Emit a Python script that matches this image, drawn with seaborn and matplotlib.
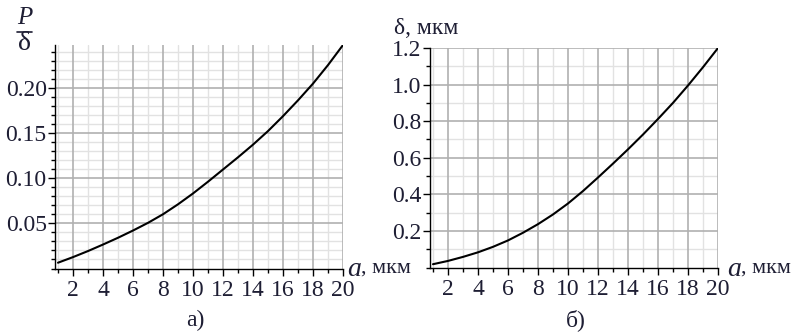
import numpy as np
import pandas as pd
import matplotlib
matplotlib.use("Agg")
import matplotlib.pyplot as plt
from matplotlib.lines import Line2D
import seaborn as sns
from matplotlib.ticker import MultipleLocator

sns.set_theme(style="white")
plt.rcParams['font.family'] = ['Liberation Serif', 'DejaVu Serif']
plt.rcParams['mathtext.fontset'] = 'stix'

# ---- data ----
a_um = [1, 2, 3, 4, 5, 6, 7, 8, 9, 10, 11, 12, 13, 14, 15, 16, 17, 18, 19, 20]
p_over_delta = [0.0064, 0.0126, 0.0193, 0.0265, 0.0340, 0.0420, 0.0505, 0.0600, 0.0710, 0.0830,
                0.0960, 0.1095, 0.1230, 0.1370, 0.1520, 0.1685, 0.1860, 0.2045, 0.2250, 0.2472]
delta_um = [0.018, 0.036, 0.058, 0.083, 0.113, 0.148, 0.190, 0.237, 0.290, 0.350,
            0.418, 0.492, 0.568, 0.646, 0.727, 0.812, 0.900, 0.995, 1.095, 1.200]
x_ticks = [2, 4, 6, 8, 10, 12, 14, 16, 18, 20]
left_yticks = [0.05, 0.10, 0.15, 0.20]
left_ylabels = ["0.05", "0.10", "0.15", "0.20"]
right_yticks = [0.2, 0.4, 0.6, 0.8, 1.0, 1.2]
right_ylabels = ["0.2", "0.4", "0.6", "0.8", "1.0", "1.2"]

df = pd.DataFrame({"a": a_um, "pd": p_over_delta, "d": delta_um})

W, H = 795, 332
fig = plt.figure(figsize=(W / 100, H / 100), dpi=100)

def ax_rect(l, r, t, b):
    return [l / W, 1 - b / H, (r - l) / W, (b - t) / H]

ax1 = fig.add_axes(ax_rect(55, 343, 45, 268.5))
ax2 = fig.add_axes(ax_rect(430, 718, 48, 267.5))

txt = '#1e1e34'
major_c = '#b0b0b0'
minor_c = '#e2e2e2'
FS = 17

def style(ax, ymin, ymax, yt, yl, yminor, ygrid_minor):
    ax.set_xlim(0.8, 20)
    ax.set_ylim(ymin, ymax)
    ax.set_xticks(x_ticks)
    ax.set_xticklabels([str(v) for v in x_ticks])
    ax.xaxis.set_minor_locator(MultipleLocator(1))
    ax.set_yticks(yt)
    ax.set_yticklabels(yl)
    ax.yaxis.set_minor_locator(MultipleLocator(yminor))
    for s in ['top', 'right']:
        ax.spines[s].set_visible(False)
    for s in ['left', 'bottom']:
        ax.spines[s].set_color('black')
        ax.spines[s].set_linewidth(1.0)
    ax.tick_params(which='major', direction='out', length=5, width=1, color='black',
                   labelsize=FS, labelcolor=txt, pad=1, bottom=True, left=True)
    ax.tick_params(which='minor', direction='out', length=3, width=1, color='black',
                   bottom=True, left=True)
    ax.tick_params(axis='x', which='major', pad=3)
    ax.set_axisbelow(True)
    ax.grid(False)
    for xv in range(1, 21, 2):
        ax.axvline(xv, color=minor_c, lw=1.0, zorder=0)
    for yv in ygrid_minor:
        ax.axhline(yv, color=minor_c, lw=1.0, zorder=0)
    for xv in x_ticks:
        ax.axvline(xv, color=major_c, lw=1.2, zorder=0.5)
    for yv in yt:
        ax.axhline(yv, color=major_c, lw=1.2, zorder=0.5)
    ax.set_xlabel("")
    ax.set_ylabel("")

sns.lineplot(data=df, x="a", y="pd", ax=ax1, color='black', lw=1.5, zorder=3)
style(ax1, 0.0, 0.2472, left_yticks, left_ylabels, 0.01,
      [v for v in np.arange(0.01, 0.245, 0.01) if abs(round(v / 0.05) * 0.05 - v) > 1e-6])

sns.lineplot(data=df, x="a", y="d", ax=ax2, color='black', lw=1.5, zorder=3)
style(ax2, 0.0, 1.2, right_yticks, right_ylabels, 0.1,
      [0.1, 0.3, 0.5, 0.7, 0.9, 1.1])

# P / delta fraction label
fig.text(25 / W, 1 - 18 / H, "P", fontsize=18, style='italic', color=txt,
         ha='center', va='center')
fig.add_artist(Line2D([17 / W, 32 / W], [1 - 31.5 / H, 1 - 31.5 / H],
                      color=txt, lw=1.2, transform=fig.transFigure))
fig.text(24.5 / W, 1 - 44 / H, "δ", fontsize=20, color=txt, ha='center', va='center')

fig.text(394 / W, 1 - 28 / H, "δ, мкм", fontsize=FS, color=txt, ha='left', va='center')
for xl in (347, 727):
    fig.text(xl / W, 1 - 270 / H, "a", fontsize=20, style='italic', color=txt,
             ha='left', va='center')
    fig.text((xl + 14) / W, 1 - 268 / H, ", мкм", fontsize=16, color=txt,
             ha='left', va='center')
fig.text(195 / W, 1 - 320 / H, "а)", fontsize=FS, color=txt, ha='center', va='center')
fig.text(576 / W, 1 - 320 / H, "б)", fontsize=FS, color=txt, ha='center', va='center')

fig.savefig("out.png", dpi=100)
